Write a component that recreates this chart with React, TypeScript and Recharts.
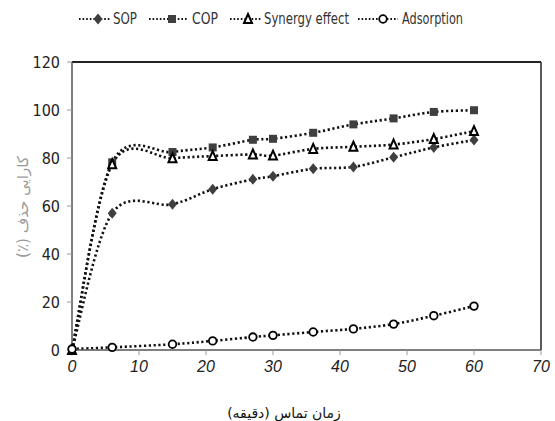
import React from 'react';
import { LineChart, Line, XAxis, YAxis, Legend, ReferenceLine, Label } from 'recharts';

const times = [0, 6, 15, 21, 27, 30, 36, 42, 48, 54, 60];
const sop = [0, 57, 60.7, 67, 71.1, 72.4, 75.5, 76.3, 80.3, 84.4, 87.5];
const cop = [0, 78.2, 82.5, 84.4, 87.6, 88, 90.5, 94, 96.5, 99.2, 99.9];
const synergy = [0, 77.4, 79.9, 80.8, 81.5, 81, 83.8, 84.7, 85.6, 87.9, 91.2];
const adsorption = [0.4, 1.1, 2.4, 3.8, 5.4, 6.1, 7.5, 8.8, 10.8, 14.3, 18.3];

const xTicks = [0, 10, 20, 30, 40, 50, 60, 70];
const yTicks = [0, 20, 40, 60, 80, 100, 120];

const seriesNames = ['SOP', 'COP', 'Synergy effect', 'Adsorption'];
const xLabel = 'زمان تماس (دقیقه)';
const yLabel = 'کارایی حذف (٪)';

const data = times.map((t, i) => ({
  t,
  sop: sop[i],
  cop: cop[i],
  synergy: synergy[i],
  adsorption: adsorption[i],
}));

// Excel-like smoothed curve (Catmull-Rom as cubic Bezier)
function excelCurve(context: any) {
  let pts: number[][] = [];
  return {
    areaStart() {},
    areaEnd() {},
    lineStart() {
      pts = [];
    },
    lineEnd() {
      if (!pts.length) return;
      context.moveTo(pts[0][0], pts[0][1]);
      for (let i = 0; i < pts.length - 1; i++) {
        const p0 = pts[i - 1] || pts[i];
        const p1 = pts[i];
        const p2 = pts[i + 1];
        const p3 = pts[i + 2] || p2;
        const c1x = p1[0] + (p2[0] - p0[0]) / 6;
        const c1y = p1[1] + (p2[1] - p0[1]) / 6;
        const c2x = p2[0] - (p3[0] - p1[0]) / 6;
        const c2y = p2[1] - (p3[1] - p1[1]) / 6;
        context.bezierCurveTo(c1x, c1y, c2x, c2y, p2[0], p2[1]);
      }
    },
    point(x: number, y: number) {
      pts.push([+x, +y]);
    },
  };
}

const MARK = '#3f3f3f';
const LINE = '#111';
const DASH = '2.2 2.6';

const Diamond = ({ cx, cy }: any) => (
  <path d={`M${cx},${cy - 5.5} L${cx + 4.5},${cy} L${cx},${cy + 5.5} L${cx - 4.5},${cy} Z`} fill={MARK} />
);
const Square = ({ cx, cy }: any) => (
  <rect x={cx - 4} y={cy - 4} width={8} height={8} fill={MARK} />
);
const Triangle = ({ cx, cy }: any) => (
  <path d={`M${cx},${cy - 5} L${cx + 4},${cy + 4} L${cx - 4},${cy + 4} Z`} fill="#fff" stroke="#000" strokeWidth={2} />
);
const Circle = ({ cx, cy }: any) => (
  <circle cx={cx} cy={cy} r={3.8} fill="#fff" stroke="#000" strokeWidth={1.8} />
);

const markerFor = [Diamond, Square, Triangle, Circle];

const legLineStart = [79, 149, 230, 358];
const legLineEnd = [110, 187, 261, 398];
const legMarker = [98, 172, 248, 383];
const legTextX = [113, 192, 264, 402];
const legTextW = [24, 26, 85, 61];

const LegendContent = () => (
  <svg width={555} height={30} style={{ display: 'block' }}>
    {seriesNames.map((name, i) => {
      const M = markerFor[i];
      return (
        <g key={name}>
          <line
            x1={legLineStart[i]}
            y1={17}
            x2={legLineEnd[i]}
            y2={17}
            stroke={LINE}
            strokeWidth={2}
            strokeDasharray="1.6 2"
          />
          <M cx={legMarker[i]} cy={17} />
          <text
            x={legTextX[i]}
            y={17}
            dominantBaseline="central"
            fontFamily="'DejaVu Sans', sans-serif"
            fontSize={15}
            fill="#333"
            textLength={legTextW[i]}
            lengthAdjust="spacingAndGlyphs"
          >
            {name}
          </text>
        </g>
      );
    })}
  </svg>
);

export default function App() {
  const keys = ['sop', 'cop', 'synergy', 'adsorption'];
  return (
    <div style={{ position: 'absolute', left: 0, top: 0, background: '#fff' }}>
      <LineChart
        width={555}
        height={421}
        data={data}
        margin={{ top: 32, right: 14, bottom: 41, left: 0 }}
      >
        <Legend verticalAlign="top" align="center" content={<LegendContent />} wrapperStyle={{ top: 2, left: 0, width: 555 }} />
        <XAxis
          dataKey="t"
          type="number"
          domain={[0, 70]}
          ticks={xTicks}
          height={30}
          tickSize={5}
          tickMargin={6}
          tick={{ fill: '#222', fontSize: 16, fontStyle: 'italic', fontFamily: "'Liberation Sans', Arial, sans-serif" }}
          axisLine={{ stroke: '#555', strokeWidth: 1.5 }}
          tickLine={{ stroke: '#999' }}
        >
          <Label
            content={() => (
              <text x={284} y={418} textAnchor="middle" fontFamily="'DejaVu Sans', serif" fontSize={14} fill="#111">
                {xLabel}
              </text>
            )}
          />
        </XAxis>
        <YAxis
          type="number"
          domain={[0, 120]}
          ticks={yTicks}
          width={72}
          tickSize={5}
          tickMargin={7}
          tick={{ fill: '#222', fontSize: 16, fontFamily: "'DejaVu Sans Condensed', 'Liberation Sans', sans-serif" }}
          axisLine={{ stroke: '#555', strokeWidth: 1.5 }}
          tickLine={{ stroke: '#999' }}
        >
          <Label
            content={() => (
              <text
                x={23}
                y={207}
                textAnchor="middle"
                direction="rtl"
                transform="rotate(-90 23 207)"
                dominantBaseline="middle"
                fontFamily="'DejaVu Sans', serif"
                fontSize={15}
                fill="#9a9a9a"
              >
                {yLabel}
              </text>
            )}
          />
        </YAxis>
        <ReferenceLine y={120} stroke="#222" strokeWidth={2} />
        <ReferenceLine x={70} stroke="#222" strokeWidth={1.5} />
        {keys.map((k, i) => (
          <Line
            key={k}
            dataKey={k}
            name={seriesNames[i]}
            type={excelCurve as any}
            stroke={LINE}
            strokeWidth={2.6}
            strokeDasharray={DASH}
            dot={markerFor[i]}
            activeDot={false}
            isAnimationActive={false}
          />
        ))}
      </LineChart>
    </div>
  );
}
